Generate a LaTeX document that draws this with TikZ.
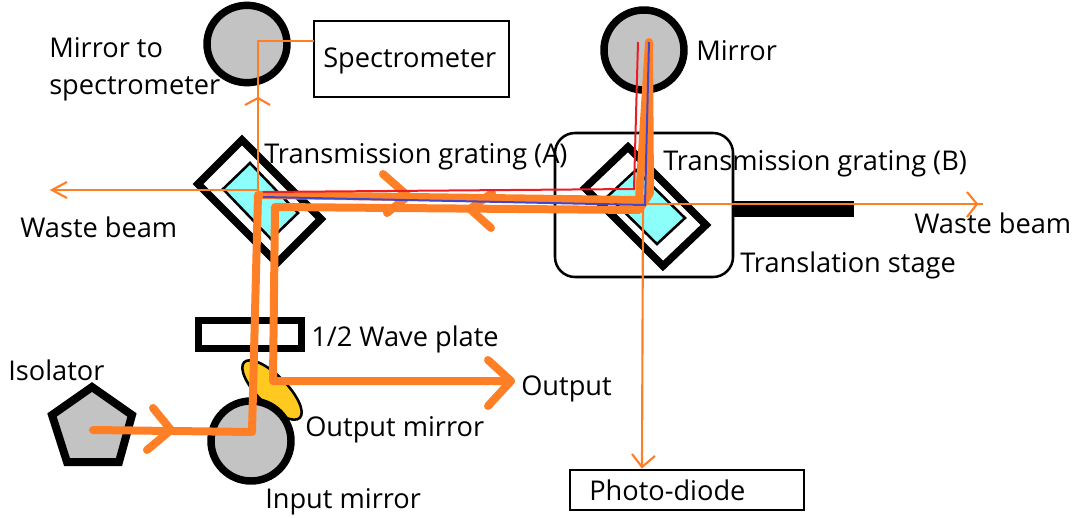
\documentclass[tikz,border=0pt]{standalone}
\usepackage{fontspec}
\setmainfont{Open Sans}
\usetikzlibrary{shapes.geometric}
\definecolor{beam}{HTML}{FF7F27}
\definecolor{mgray}{HTML}{C3C3C3}
\definecolor{gcyan}{HTML}{8CFFFB}
\definecolor{myel}{HTML}{FFC91F}
\definecolor{rbeam}{HTML}{ED1C24}
\definecolor{bbeam}{HTML}{3F48CC}
\tikzset{
 mirror/.style={ellipse,draw=black,fill=mgray,line width=5.6pt,inner sep=0pt,outer sep=0pt},
 lbl/.style={font=\fontsize{20.4pt}{24pt}\selectfont,inner sep=0pt,anchor=base west,text=black},
 boxn/.style={draw=black,line width=1.6pt,fill=white,inner sep=0pt,outer sep=0pt},
 frame/.style={draw=black,line width=5.6pt,fill=white,line join=miter},
 inner/.style={draw=black,line width=1.9pt,fill=gcyan,line join=miter},
 thick beam/.style={draw=beam,line width=6pt,line cap=round,line join=round},
 thin beam/.style={draw=beam,line width=1.6pt},
}
\begin{document}
\begin{tikzpicture}[x=0.75pt,y=-0.75pt]
\useasboundingbox (0,0) rectangle (1076,518);
% stage and rod
\draw[fill=white,draw=black,line width=1.9pt,rounded corners=15pt] (555,133) rectangle (733,277);
\fill[black] (733,201) rectangle (854,217);
% boxes
\node[boxn,minimum width=146pt,minimum height=57pt] (spec) at (411.5,59) {};
\node[boxn,minimum width=175.5pt,minimum height=30pt] (pd) at (687,490) {};
% gratings
\draw[frame] (242,140)--(321,219)--(277,263)--(198,184)--cycle;
\draw[inner] (250,163)--(298,213)--(271,239)--(223,189)--cycle;
\draw[frame] (628,147)--(706,225)--(663,266)--(585,188)--cycle;
\draw[inner] (636,170)--(685,218)--(657,244)--(608,196)--cycle;
% plate
\draw[frame,fill=none] (198.5,320.5) rectangle (301.5,348.5);
% output mirror
\node[ellipse,draw=black,fill=myel,line width=1.9pt,minimum width=59pt,minimum height=22pt,inner sep=0pt,rotate=-45] (omir) at (272,390) {};
% mirrors
\node[mirror,minimum width=60pt,minimum height=58pt] (m1) at (247,44) {};
\node[mirror,minimum width=60pt,minimum height=60pt] (m2) at (644,50) {};
\node[mirror,minimum width=60pt,minimum height=60pt] (m3) at (251,441) {};
% isolator
\draw[draw=black,fill=mgray,line width=6pt,line join=miter] (92,387)--(132,415)--(119,462)--(67,462)--(52,415)--cycle;
\node[inner sep=0pt] (iso) at (92,430) {};
% labels
\node[lbl] at (49,57) {Mirror to};
\node[lbl] at (49,94) {spectrometer};
\node[lbl] at (323,67) {Spectrometer};
\node[lbl] at (696,60) {Mirror};
\node[lbl] at (264,163) {Transmission grating (A)};
\node[lbl] at (663,170) {Transmission grating (B)};
\node[lbl] at (20,237) {Waste beam};
\node[lbl] at (914,233) {Waste beam};
\node[lbl] at (740,272) {Translation stage};
\node[lbl] at (311,346) {1/2 Wave plate};
\node[lbl] at (8,380) {Isolator};
\node[lbl] at (521,395) {Output};
\node[lbl] at (305,436) {Output mirror};
\node[lbl] at (265,508) {Input mirror};
\node[lbl] at (589,500) {Photo-diode};
% thin beams
\coordinate (a) at (258,190);
\coordinate (b) at (258,41);
\coordinate (c) at (643,204);
\coordinate (wl) at (52,190);
\coordinate (wr) at (983,204);
\coordinate (pdt) at (642,467);
\draw[thin beam] (wl)--(a)--(b)--(b -| spec.west);
\draw[thin beam] (c)--(wr);
\draw[thin beam] (c)--(pdt);
\draw[thin beam] (67,182)--(wl)--(67,198);
\draw[thin beam] (967,192)--(977,204)--(967,217);
\draw[thin beam] (245,105)--(258,98)--(270,105);
\draw[thin beam] (632,454)--(pdt)--(655,456);
% thick beams
\coordinate (i1) at (252,432);
\coordinate (g1) at (258,195);
\coordinate (g2) at (639,200);
\coordinate (top) at (649,42);
\coordinate (g3) at (639,210);
\coordinate (g4) at (275,207);
\coordinate (o1) at (273,381);
\coordinate (o2) at (511,381);
\draw[thick beam] (iso)--(i1)--(g1)--(g2)--(top)--(650,193)--(g3)--(g4)--(o1)--(o2);
\draw[thick beam] (153,408)--(171,430)--(147,450);
\draw[thick beam] (488,360)--(o2)--(488,406);
\draw[thick beam] (383,174)--(408,196)--(387,213);
\draw[thick beam] (492,193)--(470,209)--(491,228);
% red blue
\draw[rbeam,line width=1.5pt] (263,192)--(634,189)--(638,42);
\draw[bbeam,line width=1.5pt] (263,197)--(645,205)--(649,42);
\end{tikzpicture}
\end{document}
